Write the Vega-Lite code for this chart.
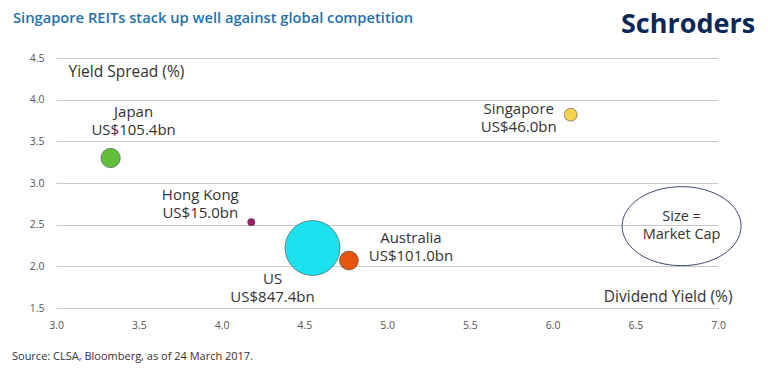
{
  "$schema": "https://vega.github.io/schema/vega-lite/v6.json",
  "width": 662,
  "height": 250,
  "autosize": {"type": "none"},
  "padding": {"left": 56, "top": 58, "right": 50, "bottom": 70},
  "background": "white",
  "config": {"view": {"stroke": null}, "font": "Open Sans"},
  "title": {
    "text": "Singapore REITs stack up well against global competition",
    "anchor": "start",
    "frame": "group",
    "dx": -43,
    "dy": 52,
    "offset": 25,
    "baseline": "alphabetic",
    "fontSize": 14.7,
    "fontWeight": 600,
    "color": "#1f70ae",
    "font": "Open Sans"
  },
  "datasets": {
    "reits": [
      {"country": "Japan", "div": 3.33, "spread": 3.30, "cap": 105.4},
      {"country": "Hong Kong", "div": 4.18, "spread": 2.53, "cap": 15.0},
      {"country": "US", "div": 4.55, "spread": 2.22, "cap": 847.4},
      {"country": "Australia", "div": 4.77, "spread": 2.07, "cap": 101.0},
      {"country": "Singapore", "div": 6.11, "spread": 3.82, "cap": 46.0}
    ]
  },
  "data": {"name": "reits"},
  "transform": [
    {"calculate": "datum.country + '\\n' + 'US$' + format(datum.cap, '.1f') + 'bn'", "as": "label"}
  ],
  "layer": [
    {
      "mark": {"type": "point", "shape": "circle", "filled": true, "opacity": 1, "stroke": "#4a4a4a", "strokeWidth": 0.6},
      "encoding": {
        "x": {
          "field": "div", "type": "quantitative",
          "scale": {"domain": [3, 7], "nice": false, "zero": false},
          "axis": {
            "values": [3, 3.5, 4, 4.5, 5, 5.5, 6, 6.5, 7],
            "format": ".1f",
            "grid": false, "domain": false, "ticks": false, "labelFlush": false,
            "labelFontSize": 10.5, "labelColor": "#555555", "labelPadding": 12,
            "title": "Dividend Yield (%)",
            "titleX": 676, "titleY": -12, "titleAlign": "right", "titleBaseline": "middle",
            "titleFontSize": 15.5, "titleFontWeight": "normal", "titleColor": "#333333"
          }
        },
        "y": {
          "field": "spread", "type": "quantitative",
          "scale": {"domain": [1.5, 4.5], "nice": false, "zero": false},
          "axis": {
            "values": [1.5, 2, 2.5, 3, 3.5, 4, 4.5],
            "format": ".1f",
            "grid": true, "gridColor": "#c8c8c8", "gridWidth": 1,
            "domain": false, "ticks": false, "labelFlush": false,
            "labelFontSize": 10.5, "labelColor": "#555555", "labelPadding": 12,
            "title": "Yield Spread (%)",
            "titleAngle": 0, "titleX": 12, "titleY": 13, "titleAlign": "left", "titleBaseline": "middle",
            "titleFontSize": 15.5, "titleFontWeight": "normal", "titleColor": "#333333"
          }
        },
        "size": {
          "field": "cap", "type": "quantitative",
          "scale": {"type": "linear", "zero": true, "domain": [0, 847.4], "range": [0, 3019]},
          "legend": null
        },
        "color": {
          "field": "country", "type": "nominal",
          "scale": {
            "domain": ["Japan", "Hong Kong", "US", "Australia", "Singapore"],
            "range": ["#62be3b", "#9e1e66", "#1be3ee", "#e5550f", "#f7d54a"]
          },
          "legend": null
        }
      }
    },
    {
      "transform": [{"filter": "datum.country === 'Japan'"}],
      "mark": {"type": "text", "dx": 23, "dy": -46, "align": "center", "baseline": "middle", "lineBreak": "\n", "lineHeight": 18, "fontSize": 15, "color": "#333333"},
      "encoding": {"x": {"field": "div", "type": "quantitative"}, "y": {"field": "spread", "type": "quantitative"}, "text": {"field": "label"}}
    },
    {
      "transform": [{"filter": "datum.country === 'Hong Kong'"}],
      "mark": {"type": "text", "dx": -51, "dy": -27, "align": "center", "baseline": "middle", "lineBreak": "\n", "lineHeight": 18, "fontSize": 15, "color": "#333333"},
      "encoding": {"x": {"field": "div", "type": "quantitative"}, "y": {"field": "spread", "type": "quantitative"}, "text": {"field": "label"}}
    },
    {
      "transform": [{"filter": "datum.country === 'US'"}],
      "mark": {"type": "text", "dx": -40, "dy": 31, "align": "center", "baseline": "middle", "lineBreak": "\n", "lineHeight": 18, "fontSize": 15, "color": "#333333"},
      "encoding": {"x": {"field": "div", "type": "quantitative"}, "y": {"field": "spread", "type": "quantitative"}, "text": {"field": "label"}}
    },
    {
      "transform": [{"filter": "datum.country === 'Australia'"}],
      "mark": {"type": "text", "dx": 62, "dy": -23, "align": "center", "baseline": "middle", "lineBreak": "\n", "lineHeight": 18, "fontSize": 15, "color": "#333333"},
      "encoding": {"x": {"field": "div", "type": "quantitative"}, "y": {"field": "spread", "type": "quantitative"}, "text": {"field": "label"}}
    },
    {
      "transform": [{"filter": "datum.country === 'Singapore'"}],
      "mark": {"type": "text", "dx": -52, "dy": -6, "align": "center", "baseline": "middle", "lineBreak": "\n", "lineHeight": 18, "fontSize": 15, "color": "#333333"},
      "encoding": {"x": {"field": "div", "type": "quantitative"}, "y": {"field": "spread", "type": "quantitative"}, "text": {"field": "label"}}
    },
    {
      "data": {"values": [{"note": "Size = Market Cap"}]},
      "mark": {
        "type": "point",
        "shape": "M 1 0 C 1 0.367 0.5523 0.664 0 0.664 C -0.5523 0.664 -1 0.367 -1 0 C -1 -0.367 -0.5523 -0.664 0 -0.664 C 0.5523 -0.664 1 -0.367 1 0 Z",
        "size": 14161, "filled": false, "stroke": "#3b4a6b", "strokeWidth": 1, "opacity": 1
      },
      "encoding": {"x": {"datum": 6.78, "type": "quantitative"}, "y": {"datum": 2.482, "type": "quantitative"}}
    },
    {
      "data": {"values": [{"note": "Size =\nMarket Cap"}]},
      "mark": {"type": "text", "align": "center", "baseline": "middle", "dy": -9, "lineBreak": "\n", "lineHeight": 18, "fontSize": 14.5, "color": "#333333"},
      "encoding": {"x": {"datum": 6.78, "type": "quantitative"}, "y": {"datum": 2.482, "type": "quantitative"}, "text": {"field": "note"}}
    },
    {
      "data": {"values": [{"logo": "Schroders"}]},
      "mark": {"type": "text", "align": "center", "baseline": "middle", "fontSize": 27, "fontWeight": 700, "color": "#0c2857", "font": "Open Sans"},
      "encoding": {"x": {"datum": 6.819, "type": "quantitative"}, "y": {"datum": 4.9, "type": "quantitative"}, "text": {"field": "logo"}}
    },
    {
      "data": {"values": [{"src": "Source: CLSA, Bloomberg, as of 24 March 2017."}]},
      "mark": {"type": "text", "align": "left", "baseline": "middle", "fontSize": 11, "color": "#333333"},
      "encoding": {"x": {"datum": 2.734, "type": "quantitative"}, "y": {"datum": 0.915, "type": "quantitative"}, "text": {"field": "src"}}
    }
  ]
}
